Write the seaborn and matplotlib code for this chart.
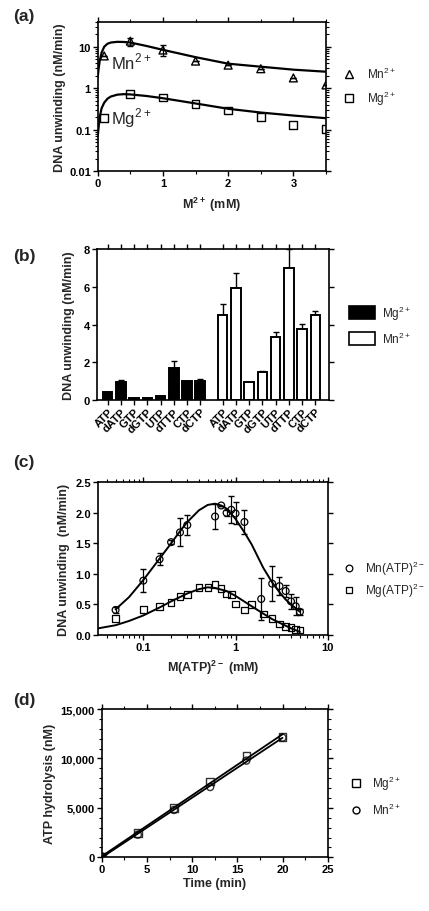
import numpy as np
import pandas as pd
import matplotlib
matplotlib.use("Agg")
import matplotlib.pyplot as plt
import seaborn as sns
from matplotlib.lines import Line2D
from matplotlib.patches import Patch
from matplotlib.ticker import (LogLocator, FixedLocator, MultipleLocator,
                               FuncFormatter, NullFormatter)

# ---------------- data ----------------
# (a) DNA unwinding vs metal concentration
a_x = [0.1, 0.5, 1.0, 1.5, 2.0, 2.5, 3.0, 3.5]
a_mn = [6.0, 13.6, 8.3, 4.5, 3.6, 2.95, 1.77, 1.2]
a_mn_err = [0, 3.0, 2.4, 0, 0, 0, 0, 0]
a_mg = [0.19, 0.71, 0.6, 0.41, 0.29, 0.2, 0.13, 0.104]
a_fit_x = [0, 0.01, 0.03, 0.06, 0.1, 0.15, 0.2, 0.3, 0.4, 0.5, 0.75, 1.0, 1.5, 2.0, 2.5, 3.0, 3.5]
a_fit_mn = [1.8, 2.6, 4.5, 7.2, 10.0, 11.8, 12.6, 13.1, 13.0, 12.6, 10.4, 8.4, 5.6, 3.9, 3.3, 2.8, 2.5]
a_fit_mg = [0.068, 0.1, 0.2, 0.33, 0.45, 0.56, 0.63, 0.7, 0.72, 0.71, 0.65, 0.575, 0.43, 0.32, 0.26, 0.22, 0.19]

# (b) nucleotide specificity
b_labels = ["ATP", "dATP", "GTP", "dGTP", "UTP", "dTTP", "CTP", "dCTP"]
b_mg = [0.44, 0.94, 0.12, 0.1, 0.23, 1.7, 0.99, 0.99]
b_mg_err = [0.0, 0.1, 0.0, 0.0, 0.0, 0.38, 0.0, 0.11]
b_mn = [4.5, 5.92, 0.97, 1.47, 3.36, 7.01, 3.76, 4.5]
b_mn_err = [0.57, 0.83, 0.0, 0.05, 0.24, 1.0, 0.27, 0.21]

# (c) DNA unwinding vs M(ATP)2-
c_x = [0.05, 0.1, 0.15, 0.2, 0.25, 0.3, 0.6, 0.7, 0.8, 0.9, 1.0, 1.25,
       1.9, 2.5, 3.0, 3.5, 4.0, 4.5, 5.0]
c_mn = [0.41, 0.89, 1.24, 1.52, 1.68, 1.8, 1.94, 2.12, 2.0, 2.05, 1.99, 1.85,
        0.59, 0.84, 0.8, 0.72, 0.55, 0.47, 0.38]
c_mn_err = [0.05, 0.19, 0.1, 0.03, 0.23, 0.17, 0.21, 0.0, 0.05, 0.22, 0.18, 0.2,
            0.34, 0.29, 0.15, 0.1, 0.12, 0.15, 0.05]
c_mg_x = [0.05, 0.1, 0.15, 0.2, 0.25, 0.3, 0.4, 0.5, 0.6, 0.7, 0.8, 0.9, 1.0,
          1.25, 1.5, 2.0, 2.5, 3.0, 3.5, 4.0, 4.5, 5.0]
c_mg = [0.27, 0.42, 0.47, 0.53, 0.63, 0.66, 0.78, 0.78, 0.83, 0.76, 0.67, 0.66, 0.51,
        0.41, 0.5, 0.34, 0.27, 0.18, 0.14, 0.12, 0.09, 0.08]
c_fit_mn_x = [0.05, 0.07, 0.1, 0.15, 0.2, 0.25, 0.3, 0.4, 0.5, 0.6, 0.7, 0.8, 1.0,
              1.25, 1.5, 2.0, 2.5, 3.0, 3.5, 4.0, 5.0]
c_fit_mn = [0.42, 0.62, 0.9, 1.25, 1.5, 1.7, 1.85, 2.04, 2.13, 2.15, 2.12, 2.07, 1.9,
            1.68, 1.48, 1.1, 0.86, 0.7, 0.58, 0.5, 0.38]
c_fit_mg_x = [0.03, 0.05, 0.07, 0.1, 0.15, 0.2, 0.3, 0.4, 0.5, 0.6, 0.8, 1.0, 1.5,
              2.0, 2.5, 3.0, 4.0, 5.0]
c_fit_mg = [0.1, 0.16, 0.23, 0.32, 0.45, 0.55, 0.68, 0.75, 0.78, 0.77, 0.72, 0.64, 0.47,
            0.35, 0.26, 0.2, 0.11, 0.05]

# (d) ATP hydrolysis time course
d_t = [0, 4, 8, 12, 16, 20]
d_mg = [100, 2460, 4990, 7650, 10280, 12150]
d_mn = [100, 2290, 4790, 7110, 9780, 12100]

# ---------------- style ----------------
sns.set_theme(style="ticks")
plt.rcParams["font.family"] = ["Liberation Sans", "DejaVu Sans"]
plt.rcParams["mathtext.fontset"] = "custom"
plt.rcParams["mathtext.rm"] = "Liberation Sans"
plt.rcParams["mathtext.bf"] = "Liberation Sans:bold"
plt.rcParams["axes.linewidth"] = 1.2
plt.rcParams["xtick.major.width"] = 1.0
plt.rcParams["ytick.major.width"] = 1.0
plt.rcParams["xtick.minor.width"] = 0.8
plt.rcParams["ytick.minor.width"] = 0.8
plt.rcParams["xtick.major.size"] = 3.5
plt.rcParams["ytick.major.size"] = 3.5
plt.rcParams["xtick.minor.size"] = 2
plt.rcParams["ytick.minor.size"] = 2
plt.rcParams["xtick.color"] = "black"
plt.rcParams["ytick.color"] = "black"
plt.rcParams["axes.edgecolor"] = "black"

W, H = 429, 912
fig = plt.figure(figsize=(W / 100, H / 100), dpi=100)


def px_axes(l, t, r, b):
    return fig.add_axes([l / W, 1 - b / H, (r - l) / W, (b - t) / H])


TICKFS = 8
LABFS = 9
LEGFS = 8.5
PANFS = 12.5
NARROW = ["Liberation Sans Narrow", "Liberation Sans", "DejaVu Sans"]


def finish(ax):
    for s in ax.spines.values():
        s.set_visible(True)
        s.set_color("black")
    ax.tick_params(which="both", direction="out", top=True, right=True,
                   labeltop=False, labelright=False, labelsize=TICKFS, pad=1.5)
    for lab in ax.get_xticklabels() + ax.get_yticklabels():
        lab.set_fontweight("bold")


ink = "black"

# ---------------- (a) ----------------
ax = px_axes(97.7, 22.7, 326, 172.3)
sns.lineplot(x=a_fit_x, y=a_fit_mn, ax=ax, color=ink, lw=1.6)
sns.lineplot(x=a_fit_x, y=a_fit_mg, ax=ax, color=ink, lw=1.6)
ax.errorbar(a_x, a_mn, yerr=a_mn_err, fmt="none", ecolor=ink, elinewidth=0.9, capsize=2.5)
sns.scatterplot(x=a_x, y=a_mn, ax=ax, marker="^", s=32, facecolor="none",
                edgecolor=ink, linewidth=1.0, zorder=3)
sns.scatterplot(x=a_x, y=a_mg, ax=ax, marker="s", s=32, facecolor="none",
                edgecolor=ink, linewidth=1.0, zorder=3)
ax.set_yscale("log")
ax.set_ylim(0.01, 40)
ax.set_xlim(0, 3.5)
ax.xaxis.set_major_locator(FixedLocator([0, 1, 2, 3]))
ax.xaxis.set_minor_locator(MultipleLocator(0.5))
ax.yaxis.set_major_locator(LogLocator(base=10, numticks=10))
ax.yaxis.set_minor_locator(LogLocator(base=10, subs=np.arange(2, 10), numticks=10))
ax.yaxis.set_major_formatter(FuncFormatter(lambda v, p: f"{v:g}"))
ax.yaxis.set_minor_formatter(NullFormatter())
ax.set_xlabel("M$^{\\mathbf{2+}}$ (mM)", fontsize=LABFS, fontweight="bold", labelpad=5)
ax.set_ylabel("DNA unwinding (nM/min)", fontsize=LABFS, fontweight="bold", labelpad=2)
ax.text(0.21, 4.6, "Mn$^{2+}$", fontsize=12, va="center", ha="left", family=NARROW)
ax.text(0.21, 0.2, "Mg$^{2+}$", fontsize=12, va="center", ha="left", family=NARROW)
finish(ax)
h = [Line2D([], [], marker="^", ls="none", mfc="none", mec=ink, ms=5.5, mew=1.0),
     Line2D([], [], marker="s", ls="none", mfc="none", mec=ink, ms=5.5, mew=1.0)]
ax.legend(h, ["Mn$^{2+}$", "Mg$^{2+}$"], loc="center left", bbox_to_anchor=(1.03, 0.565),
          frameon=False, fontsize=LEGFS, handletextpad=1.0, labelspacing=0.65,
          handlelength=1.0)
fig.text(13 / W, 1 - 16 / H, "(a)", fontsize=PANFS, fontweight="bold", va="center")

# ---------------- (b) ----------------
ax = px_axes(96.7, 250, 329.3, 401)
pos_mg = np.arange(8, dtype=float)
pos_mn = pos_mg + 8.7
df_mg = pd.DataFrame({"pos": pos_mg, "val": b_mg})
df_mn = pd.DataFrame({"pos": pos_mn, "val": b_mn})
ax.errorbar(pos_mg, b_mg, yerr=[np.zeros(8), b_mg_err], fmt="none", ecolor=ink,
            elinewidth=1.0, capsize=2.5, zorder=1)
ax.errorbar(pos_mn, b_mn, yerr=[np.zeros(8), b_mn_err], fmt="none", ecolor=ink,
            elinewidth=1.0, capsize=2.5, zorder=1)
sns.barplot(data=df_mg, x="pos", y="val", native_scale=True, ax=ax, width=0.72,
            color=ink, edgecolor=ink, linewidth=1.4, errorbar=None, zorder=2)
sns.barplot(data=df_mn, x="pos", y="val", native_scale=True, ax=ax, width=0.72,
            facecolor="white", edgecolor=ink, linewidth=1.4, errorbar=None, zorder=2)
ax.set_xlim(-0.83, 16.76)
ax.set_ylim(0, 8)
ax.set_xticks(np.concatenate([pos_mg, pos_mn]))
ax.set_xticklabels(b_labels + b_labels, rotation=45, ha="right", rotation_mode="anchor",
                   fontsize=TICKFS)
ax.yaxis.set_major_locator(MultipleLocator(2))
ax.set_xlabel("")
ax.set_ylabel("DNA unwinding (nM/min)", fontsize=LABFS, fontweight="bold", labelpad=6)
finish(ax)
ax.tick_params(axis="x", pad=1)
h = [Patch(facecolor=ink, edgecolor=ink, lw=1.2),
     Patch(facecolor="white", edgecolor=ink, lw=1.2)]
ax.legend(h, ["Mg$^{2+}$", "Mn$^{2+}$"], loc="center left", bbox_to_anchor=(1.04, 0.5),
          frameon=False, fontsize=LEGFS, handlelength=2.2, handleheight=1.3,
          labelspacing=0.75, handletextpad=0.6)
fig.text(13 / W, 1 - 257 / H, "(b)", fontsize=PANFS, fontweight="bold", va="center")

# ---------------- (c) ----------------
ax = px_axes(97.7, 483.3, 327.7, 636)
sns.lineplot(x=c_fit_mn_x, y=c_fit_mn, ax=ax, color=ink, lw=1.4)
sns.lineplot(x=c_fit_mg_x, y=c_fit_mg, ax=ax, color=ink, lw=1.4)
ax.errorbar(c_x, c_mn, yerr=c_mn_err, fmt="none", ecolor=ink, elinewidth=0.9, capsize=2.3)
sns.scatterplot(x=c_mg_x, y=c_mg, ax=ax, marker="s", s=22, facecolor="none",
                edgecolor=ink, linewidth=0.9, zorder=3)
sns.scatterplot(x=c_x, y=c_mn, ax=ax, marker="o", s=24, facecolor="none",
                edgecolor=ink, linewidth=0.9, zorder=3)
ax.set_xscale("log")
ax.set_xlim(0.032, 10)
ax.set_ylim(0, 2.5)
ax.xaxis.set_major_locator(FixedLocator([0.1, 1, 10]))
ax.xaxis.set_minor_locator(LogLocator(base=10, subs=np.arange(2, 10), numticks=10))
ax.xaxis.set_major_formatter(FuncFormatter(lambda v, p: f"{v:g}"))
ax.xaxis.set_minor_formatter(NullFormatter())
ax.yaxis.set_major_locator(MultipleLocator(0.5))
ax.yaxis.set_major_formatter(FuncFormatter(lambda v, p: f"{v:.1f}"))
ax.set_xlabel("M(ATP)$^{\\mathbf{2-}}$ (mM)", fontsize=LABFS, fontweight="bold", labelpad=4)
ax.set_ylabel("DNA unwinding  (nM/min)", fontsize=LABFS, fontweight="bold", labelpad=4)
finish(ax)
h = [Line2D([], [], marker="o", ls="none", mfc="none", mec=ink, ms=4.8, mew=0.9),
     Line2D([], [], marker="s", ls="none", mfc="none", mec=ink, ms=4.8, mew=0.9)]
ax.legend(h, ["Mn(ATP)$^{2-}$", "Mg(ATP)$^{2-}$"], loc="center left",
          bbox_to_anchor=(1.02, 0.367), frameon=False, fontsize=LEGFS,
          handletextpad=0.9, labelspacing=0.35, handlelength=1.0)
fig.text(13 / W, 1 - 463 / H, "(c)", fontsize=PANFS, fontweight="bold", va="center")

# ---------------- (d) ----------------
ax = px_axes(101.7, 710, 327.7, 858.3)
sns.regplot(x=d_t, y=d_mg, ax=ax, ci=None, marker="s", color=ink,
            scatter_kws=dict(s=30, facecolor="none", edgecolor=ink, linewidths=1.0, zorder=3),
            line_kws=dict(lw=1.3))
sns.regplot(x=d_t, y=d_mn, ax=ax, ci=None, marker="o", color=ink,
            scatter_kws=dict(s=26, facecolor="none", edgecolor=ink, linewidths=1.0, zorder=3),
            line_kws=dict(lw=1.3))
ax.set_xlim(0, 25)
ax.set_ylim(0, 15000)
ax.xaxis.set_major_locator(MultipleLocator(5))
ax.xaxis.set_minor_locator(MultipleLocator(2.5))
ax.yaxis.set_major_locator(MultipleLocator(5000))
ax.yaxis.set_minor_locator(MultipleLocator(1000))
ax.yaxis.set_major_formatter(FuncFormatter(lambda v, p: f"{int(v):,}"))
ax.set_xlabel("Time (min)", fontsize=LABFS, fontweight="bold", labelpad=2)
ax.set_ylabel("ATP hydrolysis (nM)", fontsize=LABFS, fontweight="bold", labelpad=3)
finish(ax)
h = [Line2D([], [], marker="s", ls="none", mfc="none", mec=ink, ms=5.5, mew=1.0),
     Line2D([], [], marker="o", ls="none", mfc="none", mec=ink, ms=5.0, mew=1.0)]
ax.legend(h, ["Mg$^{2+}$", "Mn$^{2+}$"], loc="center left", bbox_to_anchor=(1.05, 0.417),
          frameon=False, fontsize=LEGFS, handletextpad=0.9, labelspacing=0.8,
          handlelength=1.0)
fig.text(13 / W, 1 - 701 / H, "(d)", fontsize=PANFS, fontweight="bold", va="center")

fig.savefig("out.png", dpi=100, facecolor="white")
